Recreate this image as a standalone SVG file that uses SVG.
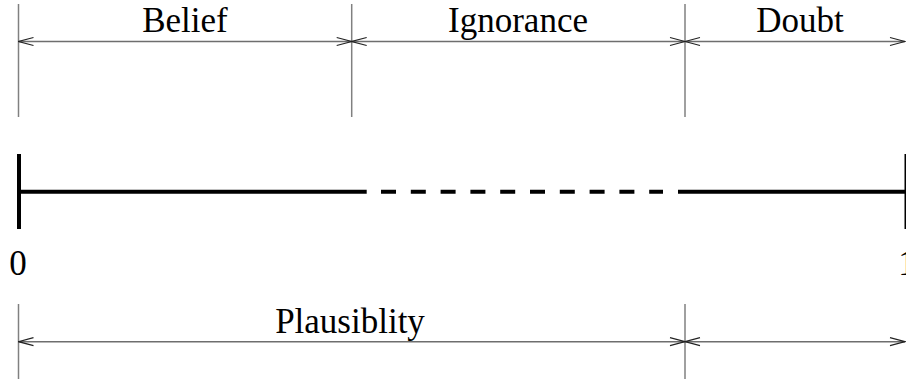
<svg xmlns="http://www.w3.org/2000/svg" width="906" height="385" viewBox="0 0 906 385">
<defs>
<style>
.guide{stroke:#808080;stroke-width:1.5;fill:none}
.dim{stroke:#6e6e6e;stroke-width:1.5;fill:none;marker-start:url(#ah);marker-end:url(#ah)}
.axis{stroke:#000;stroke-width:4;fill:none}
.lbl{font-family:"Liberation Serif","Times New Roman",serif;font-size:35px;fill:#000;text-anchor:middle}
</style>
<marker id="ah" markerUnits="userSpaceOnUse" markerWidth="20" markerHeight="12" viewBox="-19 -6 20 12" refX="0" refY="0" orient="auto-start-reverse">
<path d="M-15,-4 L0,0 L-15,4" fill="none" stroke="#222" stroke-width="1.2"/>
</marker>
</defs>
<g id="guides">
<line class="guide" x1="18.5" y1="4" x2="18.5" y2="117"/>
<line class="guide" x1="351.7" y1="4" x2="351.7" y2="117"/>
<line class="guide" x1="685" y1="4" x2="685" y2="117"/>
<line class="guide" x1="18.5" y1="304" x2="18.5" y2="379"/>
<line class="guide" x1="685" y1="304" x2="685" y2="379"/>
</g>
<g id="connectors">
<line class="dim" x1="18.5" y1="41.5" x2="351.7" y2="41.5"/>
<line class="dim" x1="351.7" y1="41.5" x2="685" y2="41.5"/>
<line class="dim" x1="685" y1="41.5" x2="905" y2="41.5"/>
<line class="dim" x1="18.5" y1="341.7" x2="685" y2="341.7"/>
<line class="dim" x1="685" y1="341.7" x2="905" y2="341.7"/>
</g>
<g id="belief"><text class="lbl" x="185" y="32">Belief</text></g>
<g id="ignorance"><text class="lbl" x="518" y="32">Ignorance</text></g>
<g id="doubt"><text class="lbl" x="800" y="32">Doubt</text></g>
<g id="plausibility"><text class="lbl" x="350" y="333">Plausiblity</text></g>
<g id="axis">
<line class="axis" x1="19" y1="154" x2="19" y2="229"/>
<line class="axis" x1="19" y1="191.7" x2="366.7" y2="191.7"/>
<line class="axis" x1="381" y1="191.7" x2="663" y2="191.7" stroke-dasharray="15 14.8"/>
<line class="axis" x1="678" y1="191.7" x2="905" y2="191.7"/>
<line class="axis" x1="905.5" y1="154" x2="905.5" y2="229" style="stroke-width:2"/>
</g>
<g id="ticks">
<text class="lbl" x="18" y="275">0</text>
<text class="lbl" x="907" y="275">1</text>
</g>
</svg>
